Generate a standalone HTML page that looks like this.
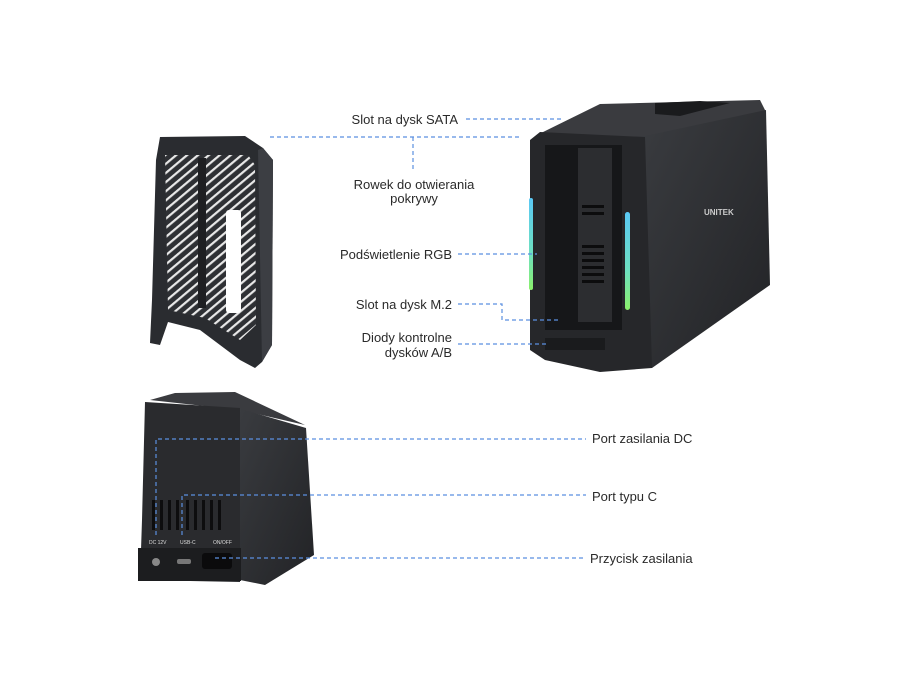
<!DOCTYPE html>
<html><head><meta charset="utf-8"><style>
html,body{margin:0;padding:0;background:#fff;}
svg{display:block}
text{font-family:"Liberation Sans",sans-serif;font-size:13px;fill:#2a2a2a;}
</style></head><body>
<svg width="900" height="675" viewBox="0 0 900 675" xmlns="http://www.w3.org/2000/svg">
<defs>
<linearGradient id="rgb" x1="0" y1="0" x2="0" y2="1"><stop offset="0" stop-color="#5ac8f5"/><stop offset="0.6" stop-color="#6ee0c0"/><stop offset="1" stop-color="#8af06a"/></linearGradient>
<linearGradient id="side" x1="0" y1="0" x2="1" y2="1"><stop offset="0" stop-color="#3a3c40"/><stop offset="1" stop-color="#222326"/></linearGradient>
<pattern id="grille" width="7" height="7" patternUnits="userSpaceOnUse" patternTransform="rotate(-40)"><rect width="7" height="7" fill="#2e3034"/><rect width="7" height="2.2" fill="#e8e8e8"/></pattern>
</defs>

<!-- Cover -->
<path d="M160,137 L245,136 L263,148 L273,160 L272,345 L262,362 L255,368 L240,360 L200,330 L168,322 L160,345 L150,343 L152,300 L156,160 Z" fill="#2a2c30"/>
<path d="M165,155 L248,155 L255,165 L256,325 L240,340 L205,318 L168,310 Z" fill="url(#grille)"/>
<rect x="198" y="158" width="8" height="150" fill="#1e1f22"/>
<rect x="226" y="210" width="15" height="103" rx="3" fill="#fff"/>
<path d="M263,148 L273,160 L272,345 L262,362 L258,150 Z" fill="#3c3e43"/>

<!-- Right device -->
<path d="M537,135 L600,104 L760,100 L766,112 L648,140 Z" fill="#3a3b3f"/>
<path d="M655,103 L700,101 L730,103 L680,116 L655,114 Z" fill="#1a1b1d"/>
<path d="M640,137 L766,110 L770,285 L652,368 L642,350 Z" fill="url(#side)"/>
<path d="M530,140 L540,132 L645,137 L652,368 L600,372 L545,360 L530,350 Z" fill="#26272a"/>
<path d="M545,145 L622,145 L622,330 L545,330 Z" fill="#161719"/>
<path d="M578,148 L612,148 L612,322 L578,322 Z" fill="#2c2d30"/>
<g fill="#0c0c0d">
<rect x="582" y="205" width="22" height="3"/><rect x="582" y="212" width="22" height="3"/>
<rect x="582" y="245" width="22" height="3"/><rect x="582" y="252" width="22" height="3"/><rect x="582" y="259" width="22" height="3"/><rect x="582" y="266" width="22" height="3"/><rect x="582" y="273" width="22" height="3"/><rect x="582" y="280" width="22" height="3"/>
</g>
<rect x="529" y="198" width="4" height="92" rx="2" fill="url(#rgb)"/>
<rect x="625" y="212" width="5" height="98" rx="2.5" fill="url(#rgb)"/>
<text x="704" y="215" style="font-size:8px;fill:#ccc;font-weight:bold">UNITEK</text>
<rect x="545" y="338" width="60" height="12" fill="#1a1b1d"/>

<!-- Bottom device -->
<path d="M150,400 L175,393 L235,392 L305,425 L240,410 Z" fill="#3a3b3f"/>
<path d="M238,408 L306,428 L314,555 L265,585 L240,580 Z" fill="url(#side)"/>
<path d="M145,402 L240,408 L240,582 L140,580 L142,520 Z" fill="#2a2b2e"/>
<g fill="#0d0d0e">
<rect x="152" y="500" width="3" height="30"/><rect x="160" y="500" width="3" height="30"/><rect x="168" y="500" width="3" height="30"/><rect x="176" y="500" width="3" height="30"/>
<rect x="186" y="500" width="3" height="30"/><rect x="194" y="500" width="3" height="30"/><rect x="202" y="500" width="3" height="30"/><rect x="210" y="500" width="3" height="30"/><rect x="218" y="500" width="3" height="30"/>
</g>
<rect x="138" y="548" width="103" height="33" fill="#1c1d1f"/>
<circle cx="156" cy="562" r="4" fill="#888"/>
<rect x="177" y="559" width="14" height="5" rx="2" fill="#777"/>
<rect x="202" y="553" width="30" height="16" rx="3" fill="#0b0b0c"/>
<text x="149" y="544" style="font-size:5px;fill:#ddd">DC 12V</text>
<text x="180" y="544" style="font-size:5px;fill:#ddd">USB-C</text>
<text x="213" y="544" style="font-size:5px;fill:#ddd">ON/OFF</text>

<!-- dashed lines -->
<g stroke="#5b8fe0" stroke-width="1.2" stroke-dasharray="4,3" fill="none">
<path d="M466,119 L564,119"/>
<path d="M270,137 L520,137 M413,137 L413,171"/>
<path d="M458,254 L537,254"/>
<path d="M458,304 L502,304 L502,320 L560,320"/>
<path d="M458,344 L548,344"/>
<path d="M156,535 L156,439 L586,439"/>
<path d="M182,535 L182,495 L586,495"/>
<path d="M215,558 L586,558"/>
</g>

<!-- labels -->
<text x="458" y="124" text-anchor="end">Slot na dysk SATA</text>
<text x="414" y="189" text-anchor="middle">Rowek do otwierania</text>
<text x="414" y="203" text-anchor="middle">pokrywy</text>
<text x="452" y="259" text-anchor="end">Podświetlenie RGB</text>
<text x="452" y="309" text-anchor="end">Slot na dysk M.2</text>
<text x="452" y="342" text-anchor="end">Diody kontrolne</text>
<text x="452" y="357" text-anchor="end">dysków A/B</text>
<text x="592" y="443">Port zasilania DC</text>
<text x="592" y="501">Port typu C</text>
<text x="590" y="563">Przycisk zasilania</text>
</svg>
</body></html>
